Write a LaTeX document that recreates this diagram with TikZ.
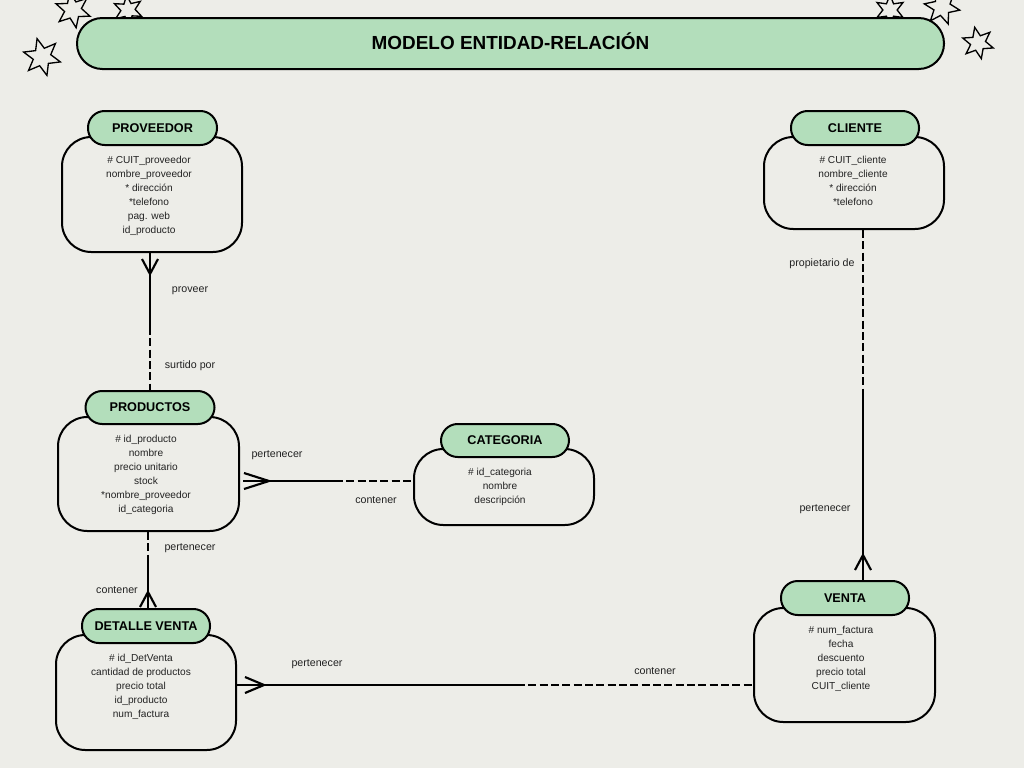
\documentclass[tikz,border=0pt]{standalone}
\usepackage{fontspec}
\setmainfont{Liberation Sans}
\usetikzlibrary{shapes.geometric,calc}
\definecolor{bgc}{HTML}{EDEDE8}
\definecolor{grn}{HTML}{B3DEBB}
\definecolor{txt}{HTML}{222222}
\begin{document}
\begin{tikzpicture}[x=0.75pt,y=-0.75pt,
 hdr/.style={draw,fill=grn,line width=1.5pt,rounded corners=12.5pt,inner sep=0pt,font=\bfseries\fontsize{9.5}{11}\selectfont},
 body/.style={draw,fill=bgc,line width=1.5pt,rounded corners=22pt,inner sep=0pt},
 attrs/.style={align=center,font=\fontsize{7.6}{10.5}\selectfont,text=txt,anchor=north,inner sep=0pt},
 lbl/.style={font=\fontsize{8}{9}\selectfont,text=txt,inner sep=0pt},
 conn/.style={line width=1.5pt},
 dconn/.style={line width=1.5pt,dash pattern=on 6pt off 2.5pt},
 crow/.style={line width=1.6pt},
 deco/.style={star,star points=6,star point ratio=2.1,draw,fill=bgc,line width=1pt,inner sep=0pt}]
\fill[bgc] (0,0) rectangle (1024,768);
\useasboundingbox (0,0) rectangle (1024,768);

% stars
\node[deco,minimum size=36*0.75pt,shape border rotate=10] (st1) at (73,10) {};
\node[deco,minimum size=30*0.75pt,shape border rotate=5] (st2) at (128,10) {};
\node[deco,minimum size=38*0.75pt,shape border rotate=15] (st3) at (42,57) {};
\node[deco,minimum size=30*0.75pt,shape border rotate=0] (st4) at (890,10) {};
\node[deco,minimum size=36*0.75pt,shape border rotate=20] (st5) at (942,7) {};
\node[deco,minimum size=32*0.75pt,shape border rotate=12] (st6) at (978,43) {};

% title
\node[draw,fill=grn,line width=1.5pt,rounded corners=19pt,minimum width=867*0.75pt,minimum height=51*0.75pt,inner sep=0pt,font=\bfseries\fontsize{14.2}{16}\selectfont] (title) at (510.5,43.5) {\raisebox{3.8pt}{MODELO ENTIDAD-RELACIÓN}};

% PROVEEDOR
\node[body,minimum width=180*0.75pt,minimum height=115*0.75pt] (provB) at (152,194.5) {};
\node[hdr,minimum width=129*0.75pt,minimum height=34*0.75pt] (provH) at (152.5,128) {PROVEEDOR};
\node[attrs] (provA) at (149,155.5) {\# CUIT\_proveedor\\nombre\_proveedor\\* dirección\\*telefono\\pag. web\\id\_producto};

% CLIENTE
\node[body,minimum width=180*0.75pt,minimum height=92*0.75pt] (cliB) at (854,183) {};
\node[hdr,minimum width=128*0.75pt,minimum height=34*0.75pt] (cliH) at (855,128) {CLIENTE};
\node[attrs] (cliA) at (853,155.5) {\# CUIT\_cliente\\nombre\_cliente\\* dirección\\*telefono};

% PRODUCTOS
\node[body,minimum width=181*0.75pt,minimum height=114*0.75pt] (prodB) at (148.5,474) {};
\node[hdr,minimum width=129*0.75pt,minimum height=33*0.75pt] (prodH) at (150,407.5) {PRODUCTOS};
\node[attrs] (prodA) at (146,434.5) {\# id\_producto\\nombre\\precio unitario\\stock\\*nombre\_proveedor\\id\_categoria};

% CATEGORIA
\node[body,minimum width=180*0.75pt,minimum height=76*0.75pt] (catB) at (504,487) {};
\node[hdr,minimum width=128*0.75pt,minimum height=33*0.75pt] (catH) at (505,440.5) {CATEGORIA};
\node[attrs] (catA) at (500,467.5) {\# id\_categoria\\nombre\\descripción};

% DETALLE VENTA
\node[body,minimum width=180*0.75pt,minimum height=115*0.75pt] (detB) at (146,692.5) {};
\node[hdr,minimum width=128*0.75pt,minimum height=34*0.75pt] (detH) at (146,626) {DETALLE VENTA};
\node[attrs] (detA) at (141,653.5) {\# id\_DetVenta\\cantidad de productos\\precio total\\id\_producto\\num\_factura};

% VENTA
\node[body,minimum width=181*0.75pt,minimum height=114*0.75pt] (venB) at (844.5,665) {};
\node[hdr,minimum width=128*0.75pt,minimum height=34*0.75pt] (venH) at (845,598) {VENTA};
\node[attrs] (venA) at (841,625.5) {\# num\_factura\\fecha\\descuento\\precio total\\CUIT\_cliente};

% connector PROVEEDOR - PRODUCTOS
\coordinate (k1) at (150,327);
\draw[conn] (k1 |- provB.south) -- (k1);
\draw[dconn] (k1) -- (k1 |- prodH.north);
\draw[crow] ($(k1 |- provB.south)+(-8,6)$) -- ($(k1 |- provB.south)+(0,21)$) -- ($(k1 |- provB.south)+(8,6)$);
\node[lbl] (l1) at (190,290.5) {proveer};
\node[lbl] (l2) at (190,365.5) {surtido por};

% connector PRODUCTOS - CATEGORIA
\coordinate (k2a) at (243,481);
\coordinate (k2b) at (335,481);
\draw[conn] (k2a) -- (k2b);
\draw[dconn] (k2b) -- (k2b -| catB.west);
\draw[crow] ($(k2a)+(1,-8)$) -- ($(k2a)+(26,0)$) -- ($(k2a)+(1,8)$);
\node[lbl] (l3) at (277,455.5) {pertenecer};
\node[lbl] (l4) at (376,500.5) {contener};

% connector PRODUCTOS - DETALLE VENTA
\coordinate (k3) at (148,560);
\draw[dconn] (k3 |- prodB.south) -- (k3);
\draw[conn] (k3) -- (k3 |- detH.north);
\draw[crow] ($(k3 |- detH.north)+(-8,-1)$) -- ($(k3 |- detH.north)+(0,-16)$) -- ($(k3 |- detH.north)+(8,-1)$);
\node[lbl] (l5) at (190,548.5) {pertenecer};
\node[lbl] (l6) at (117,590.5) {contener};

% connector DETALLE VENTA - VENTA
\coordinate (k4a) at (237,685);
\coordinate (k4b) at (517,685);
\draw[conn] (k4a) -- (k4b);
\draw[dconn] (k4b) -- (k4b -| venB.west);
\draw[crow] ($(k4a)+(8,-8)$) -- ($(k4a)+(27,0)$) -- ($(k4a)+(8,8)$);
\node[lbl] (l7) at (317,664.5) {pertenecer};
\node[lbl] (l8) at (655,671.5) {contener};

% connector CLIENTE - VENTA
\coordinate (k5) at (863,390);
\draw[dconn] (k5 |- cliB.south) -- (k5);
\draw[conn] (k5) -- (k5 |- venH.north);
\draw[crow] ($(k5 |- venH.north)+(-8,-10)$) -- ($(k5 |- venH.north)+(0,-25)$) -- ($(k5 |- venH.north)+(8,-10)$);
\node[lbl] (l9) at (822,263.5) {propietario de};
\node[lbl] (l10) at (825,509.5) {pertenecer};
\end{tikzpicture}
\end{document}
